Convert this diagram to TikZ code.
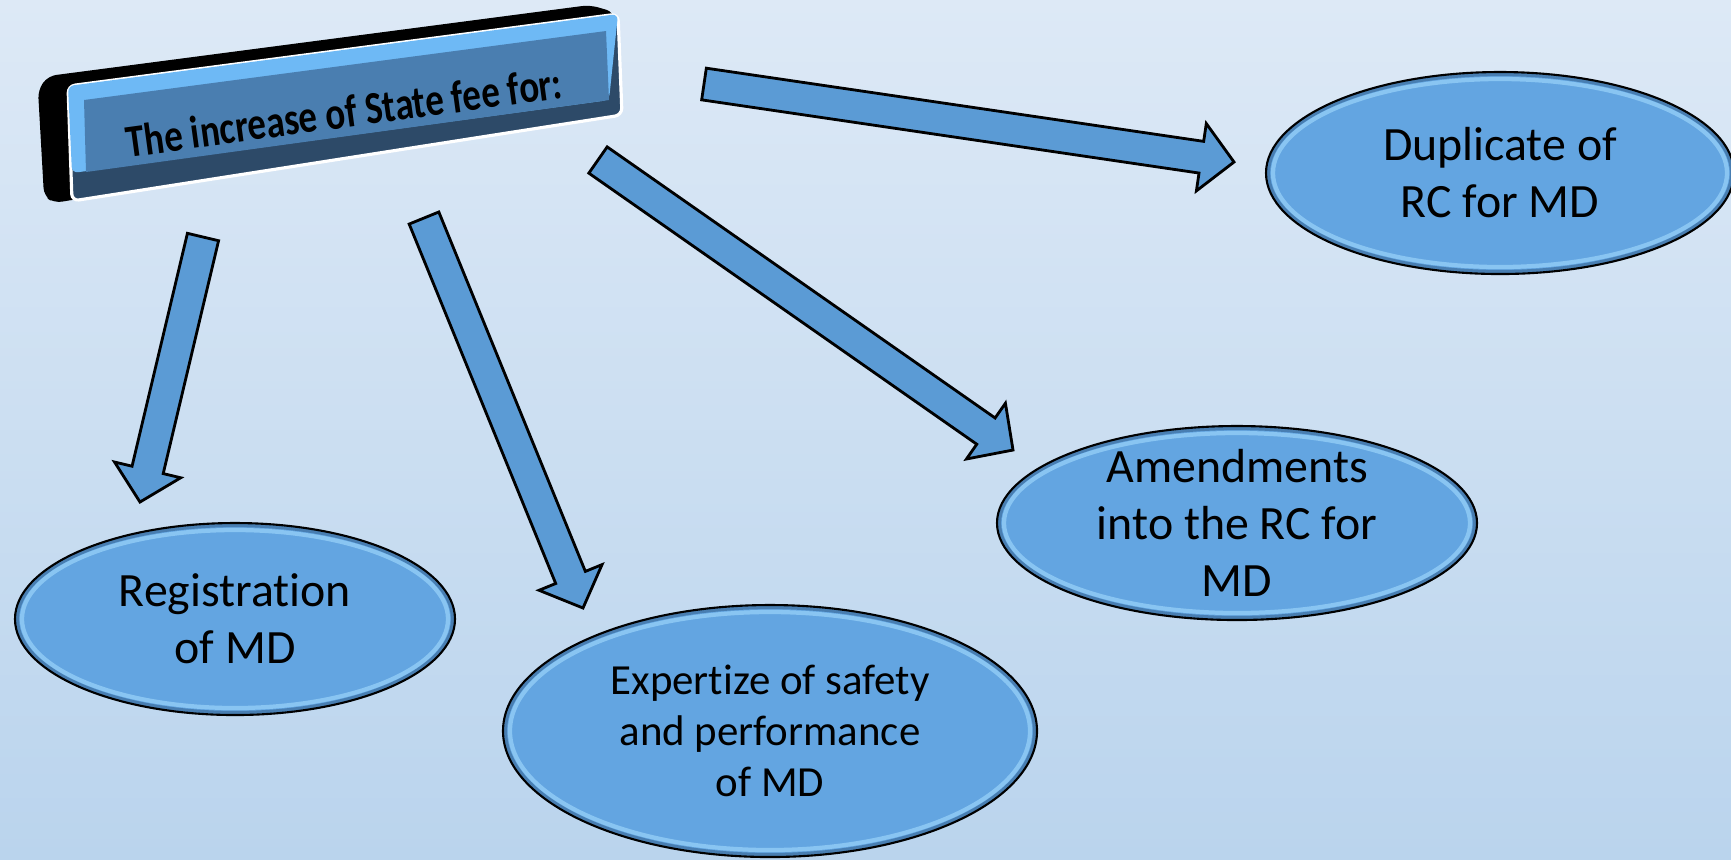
\documentclass[tikz,border=0pt]{standalone}
\usepackage{graphicx}
\usepackage{fontspec}
\setmainfont{Carlito}[Ligatures={NoCommon}]
\usetikzlibrary{calc,shapes.geometric}
\definecolor{bgtop}{RGB}{221,233,246}
\definecolor{bgbot}{RGB}{186,212,237}
\definecolor{arrowfill}{RGB}{91,155,213}
\definecolor{bubblefill}{RGB}{99,165,225}
\definecolor{bubblerim}{RGB}{150,208,248}
\definecolor{bubbledark}{RGB}{50,95,140}
\definecolor{faceLight}{RGB}{110,185,245}
\definecolor{faceMain}{RGB}{74,126,176}
\definecolor{faceDark}{RGB}{45,74,104}
\tikzset{
  blockarr/.style={fill=arrowfill, draw=black, line width=0.8pt, line join=miter},
  bubbletext/.style={ellipse, inner sep=0pt, align=center, text=black},
  bigtext/.style={font=\fontsize{13.6pt}{16.2pt}\selectfont},
  smalltext/.style={font=\fontsize{12.2pt}{14.5pt}\selectfont},
  titletext/.style={font=\bfseries\fontsize{13pt}{15pt}\selectfont, text=black, inner sep=0pt}
}
\newcommand\blockarrow[2]{%
  \coordinate (#1n) at ($(#2)!0.33cm!(#1)$);
  \draw[blockarr] ($(#1)!0.16cm!90:(#2)$) -- ($(#1n)!0.16cm!90:(#2)$)
    -- ($(#1n)!0.34cm!90:(#2)$) -- (#2) -- ($(#1n)!0.34cm!-90:(#2)$)
    -- ($(#1n)!0.16cm!-90:(#2)$) -- ($(#1)!0.16cm!-90:(#2)$) -- cycle;}
\newcommand\bubble[7]{% name, x, y, rx, ry, text style, text
  \fill[bubblefill] (#2,#3) ellipse [x radius=#4, y radius=#5];
  \draw[bubbledark, line width=0.9pt, opacity=0.55] (#2,#3) ellipse [x radius=#4-2.5, y radius=#5-2.5];
  \draw[bubblerim, line width=1.2pt, opacity=0.75] (#2,#3) ellipse [x radius=#4-7, y radius=#5-7];
  \draw[black, line width=0.6pt] (#2,#3) ellipse [x radius=#4, y radius=#5];
  \node[bubbletext, #6, minimum width=2*#4*0.01cm, minimum height=2*#5*0.01cm] (#1) at (#2,#3) {#7};}
\begin{document}
\begin{tikzpicture}[x=0.01cm, y=-0.01cm]
\useasboundingbox (0,0) rectangle (1731,859);
\shade[top color=bgtop, bottom color=bgbot] (0,0) rectangle (1731,859);

% ---- title box ----
\fill[black, rounded corners=0.08cm] (38,90) -- (48,76) -- (590,5) -- (614,12) -- (614,108) -- (54,203) -- (44,196) -- cycle;
\filldraw[fill=faceDark, draw=white, line width=0.9pt, rounded corners=0.07cm]
  (68,86) -- (618,14) -- (622,115) -- (72,201) -- cycle;
\fill[faceLight, rounded corners=0.06cm] (68,86) -- (618,14) -- (609,100) -- (72,173) -- cycle;
\fill[faceMain] (84,100) -- (606,31) -- (609,100) -- (86,172) -- cycle;
\node[titletext, rotate=7.8] (title) at (344,112) {\scalebox{0.81}[1]{The increase of State fee for:}};

% ---- ellipses ----
\bubble{reg}{235}{619}{220}{96}{bigtext}{Registration\\of MD}
\bubble{exp}{770}{731}{267}{126}{smalltext}{Expertize of safety\\and performance\\of MD}
\bubble{amd}{1237}{523}{240}{97}{bigtext}{Amendments\\into the RC for\\MD}
\bubble{dup}{1500}{173}{234}{101}{bigtext}{Duplicate of\\RC for MD}

% ---- arrows ----
\coordinate (a1t) at (203,237); \coordinate (a1h) at (140,502);
\coordinate (a2t) at (424,218); \coordinate (a2h) at (583,608);
\coordinate (a3t) at (598,160); \coordinate (a3h) at (1013,450);
\coordinate (a4t) at (704,84);  \coordinate (a4h) at (1234,162);
\blockarrow{a1t}{a1h}
\blockarrow{a2t}{a2h}
\blockarrow{a3t}{a3h}
\blockarrow{a4t}{a4h}
\end{tikzpicture}
\end{document}
